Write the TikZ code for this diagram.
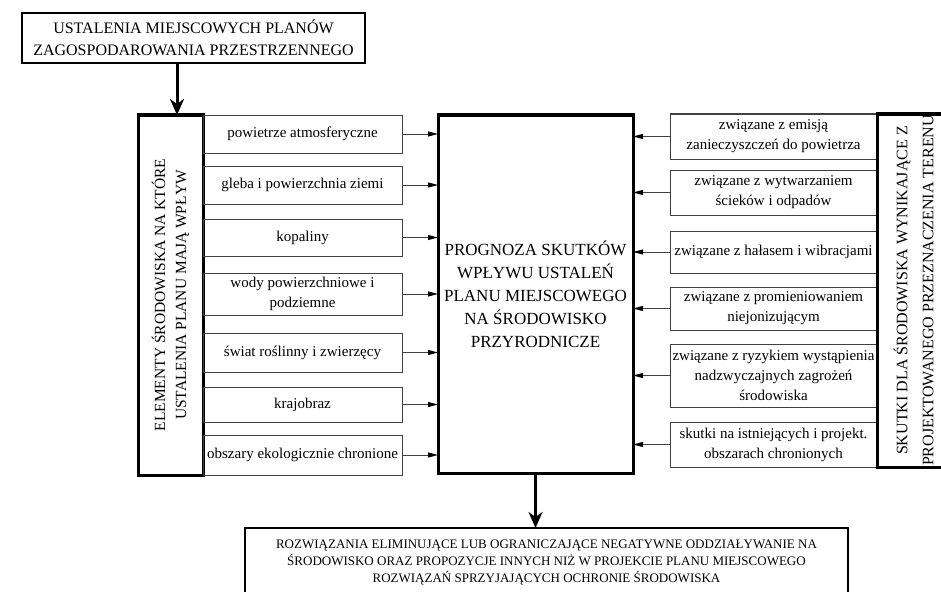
\documentclass[tikz,border=0pt]{standalone}
\usepackage{fontspec}
\setmainfont{Liberation Serif}
\usetikzlibrary{arrows.meta}
\begin{document}
\begin{tikzpicture}[x=1pt,y=-1pt,
  every node/.style={inner sep=0pt,outer sep=0pt,align=center},
  smallbox/.style={draw=black!75,line width=1pt,minimum width=#1,font=\fontsize{15}{20}\selectfont},
  tallbox/.style={draw,line width=3pt,rotate=90,font=\fontsize{15.5}{21}\selectfont},
  feed/.style={draw=black!75,line width=1pt,-{Triangle[length=10pt,width=5pt,black]}},
  flow/.style={line width=3pt,-{Stealth[length=16pt,width=14pt,inset=5pt]}}]
  \clip (0,0) rectangle (941,591);
  \node[draw,line width=1.8pt,minimum width=343,minimum height=50,font=\fontsize{16}{22}\selectfont]
    (plans) at (193.5,38) {USTALENIA MIEJSCOWYCH PLANÓW\\ZAGOSPODAROWANIA PRZESTRZENNEGO};
  \node[tallbox,minimum width=360,minimum height=65] (elem) at (170.5,295)
    {ELEMENTY ŚRODOWISKA NA KTÓRE\\USTALENIA PLANU MAJĄ WPŁYW};
  \node[draw,line width=3pt,minimum width=195,minimum height=358,font=\fontsize{17}{23}\selectfont]
    (prog) at (535.5,294) {PROGNOZA SKUTKÓW\\WPŁYWU USTALEŃ\\PLANU MIEJSCOWEGO\\NA ŚRODOWISKO\\PRZYRODNICZE};
  \node[draw,line width=1.8pt,minimum width=603,minimum height=68,font=\fontsize{13}{17}\selectfont]
    (rozw) at (546.5,562) {ROZWIĄZANIA ELIMINUJĄCE LUB OGRANICZAJĄCE NEGATYWNE ODDZIAŁYWANIE NA\\
    ŚRODOWISKO ORAZ PROPOZYCJE INNYCH NIŻ W PROJEKCIE PLANU MIEJSCOWEGO\\
    ROZWIĄZAŃ SPRZYJAJĄCYCH OCHRONIE ŚRODOWISKA};
  \node[smallbox=199,minimum height=38] (l1) at (302.5,134) {powietrze atmosferyczne};
  \node[smallbox=199,minimum height=38] (l2) at (302.5,185) {gleba i powierzchnia ziemi};
  \node[smallbox=199,minimum height=37] (l3) at (302.5,237.5) {kopaliny};
  \node[smallbox=199,minimum height=42] (l4) at (302.5,294) {wody powierzchniowe i\\podziemne};
  \node[smallbox=199,minimum height=39] (l5) at (302.5,352.5) {świat roślinny i zwierzęcy};
  \node[smallbox=199,minimum height=35] (l6) at (302.5,404.5) {krajobraz};
  \node[smallbox=199,minimum height=40] (l7) at (302.5,455) {obszary ekologicznie chronione};
  \node[smallbox=207,minimum height=45] (r1) at (773.5,136.5) {związane z emisją\\zanieczyszczeń do powietrza};
  \node[smallbox=207,minimum height=45] (r2) at (773.5,192.5) {związane z wytwarzaniem\\ścieków i odpadów};
  \node[smallbox=207,minimum height=42] (r3) at (773.5,252) {związane z hałasem i wibracjami};
  \node[smallbox=207,minimum height=43] (r4) at (773.5,308.5) {związane z promieniowaniem\\niejonizującym};
  \node[smallbox=207,minimum height=63] (r5) at (773.5,375.5) {związane z ryzykiem wystąpienia\\nadzwyczajnych zagrożeń\\środowiska};
  \node[smallbox=207,minimum height=45] (r6) at (773.5,444.5) {skutki na istniejących i projekt.\\obszarach chronionych};
  \node[tallbox,minimum width=353,minimum height=73] (skutki) at (913.5,290.5) {};
  \begin{scope}
    \clip (skutki.south west) rectangle (skutki.north east);
    \node[rotate=90,font=\fontsize{16}{26}\selectfont] at (skutki.center)
      {SKUTKI DLA ŚRODOWISKA WYNIKAJĄCE Z\\PROJEKTOWANEGO PRZEZNACZENIA TERENU};
  \end{scope}
  \coordinate (ein) at ([xshift=6.5pt]elem.east);
  \draw[flow] (plans.south -| ein) -- (ein);
  \draw[flow] (prog.south) -- (prog.south |- rozw.north);
  \draw[feed] (l1.east) -- (l1.east -| prog.west);
  \draw[feed] (l2.east) -- (l2.east -| prog.west);
  \draw[feed] (l3.east) -- (l3.east -| prog.west);
  \draw[feed] (l4.east) -- (l4.east -| prog.west);
  \draw[feed] (l5.east) -- (l5.east -| prog.west);
  \draw[feed] (l6.east) -- (l6.east -| prog.west);
  \draw[feed] (l7.east) -- (l7.east -| prog.west);
  \draw[feed] (r1.west) -- (r1.west -| prog.east);
  \draw[feed] (r2.west) -- (r2.west -| prog.east);
  \draw[feed] (r3.west) -- (r3.west -| prog.east);
  \draw[feed] (r4.west) -- (r4.west -| prog.east);
  \draw[feed] (r5.west) -- (r5.west -| prog.east);
  \draw[feed] (r6.west) -- (r6.west -| prog.east);
\end{tikzpicture}
\end{document}
